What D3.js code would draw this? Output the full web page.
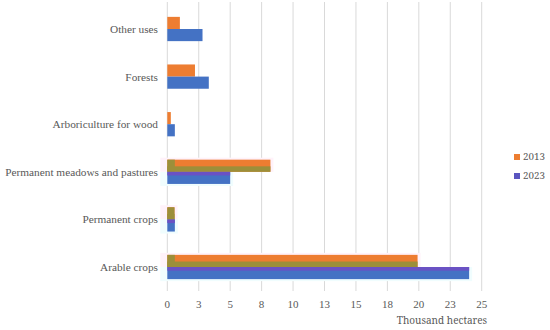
<!DOCTYPE html>
<html><head><meta charset="utf-8">
<script src="https://cdn.jsdelivr.net/npm/d3@7"></script>
<style>body{margin:0;background:#fff}svg{display:block}</style>
</head><body>
<svg id="c" width="550" height="330"></svg>
<script>
const categories = ["Other uses","Forests","Arboriculture for wood","Permanent meadows and pastures","Permanent crops","Arable crops"];
const values2013 = [1.0, 2.2, 0.28, 8.2, 0.57, 19.9];
const values2023 = [2.8, 3.3, 0.6, 5.0, 0.6, 24.0];
const seriesNames = ["2013","2023"];
const tickValues = [0,2.5,5,7.5,10,12.5,15,17.5,20,22.5,25];
const tickLabels = ["0","3","5","8","10","13","15","18","20","23","25"];
const xTitle = "Thousand hectares";

const SERIF = "'Liberation Serif','Times New Roman',serif";
const CAM = "'Noto Serif','DejaVu Serif',serif";
const colors = ["#ED7D31","#4472C4"];
const svg = d3.select("#c");
const x = d3.scaleLinear().domain([0,25]).range([167.3,481.7]);
const y = d3.scaleBand().domain(categories).range([5.2,290.8]).paddingInner(0.49).paddingOuter(0.245);
const bh = y.bandwidth()/2;

// gridlines
svg.append("g").selectAll("line").data(tickValues).join("line")
  .attr("x1",d=>x(d)).attr("x2",d=>x(d)).attr("y1",2).attr("y2",291)
  .attr("stroke","#d9d9d9").attr("stroke-width",1);

// faint ghost halos for lower categories
const ghost = categories.slice(3);
const g0 = svg.append("g");
ghost.forEach(c=>{
  const i = categories.indexOf(c);
  g0.append("rect").attr("x",x(0)-7).attr("y",y(c)-2).attr("width",x(values2013[i])-x(0)+10).attr("height",bh+2).attr("fill","#fff2fa");
  g0.append("rect").attr("x",x(0)-7).attr("y",y(c)+bh).attr("width",x(values2023[i])-x(0)+10).attr("height",bh+2).attr("fill","#f0fdfe");
});

const series = [values2013, values2023];
series.forEach((vals,s)=>{
  svg.append("g").selectAll("rect").data(categories).join("rect")
    .attr("x",x(0)).attr("y",d=>y(d)+s*bh)
    .attr("width",(d,i)=>x(vals[i])-x(0)).attr("height",bh)
    .attr("fill",colors[s]);
});

// overlay stripes (as in the reference)
const g1 = svg.append("g");
ghost.forEach(c=>{
  const i = categories.indexOf(c);
  g1.append("rect").attr("x",x(0)).attr("y",y(c)+bh*0.55).attr("width",x(values2013[i])-x(0)).attr("height",bh*0.45).attr("fill","#9c8f3a");
  g1.append("rect").attr("x",x(0)).attr("y",y(c)).attr("width",x(Math.min(0.6,values2013[i]))-x(0)).attr("height",bh).attr("fill","#9c8f3a");
  g1.append("rect").attr("x",x(0)).attr("y",y(c)+bh).attr("width",x(values2023[i])-x(0)).attr("height",bh*0.3).attr("fill","#6a52c4");
});

// category labels
svg.append("g").selectAll("text").data(categories).join("text")
  .style("font-family",SERIF).style("font-size","11.3px")
  .attr("x",158).attr("y",d=>y(d)+y.bandwidth()/2).attr("dy","0.35em")
  .attr("text-anchor","end")
  .attr("fill","#595959").text(d=>d);

// x tick labels
svg.append("g").selectAll("text").data(tickValues).join("text")
  .style("font-family",SERIF).style("font-size","11px")
  .attr("x",d=>x(d)).attr("y",304).attr("dy","0.35em").attr("text-anchor","middle")
  .attr("fill","#595959")
  .text((d,i)=>tickLabels[i]);

svg.append("text").style("font-family",CAM).style("font-size","10px")
  .attr("x",442).attr("y",320).attr("dy","0.35em").attr("text-anchor","middle")
  .attr("fill","#595959").text(xTitle);

// legend
const lg = svg.append("g");
seriesNames.forEach((n,i)=>{
  lg.append("rect").attr("x",514).attr("y",154+i*19).attr("width",6).attr("height",6).attr("fill",i? "#5a55c0": colors[0]);
  lg.append("text").style("font-family",CAM).style("font-size","9.8px")
    .attr("x",523).attr("y",157+i*19).attr("dy","0.35em")
    .attr("fill","#595959").text(n);
});
</script>
</body></html>
